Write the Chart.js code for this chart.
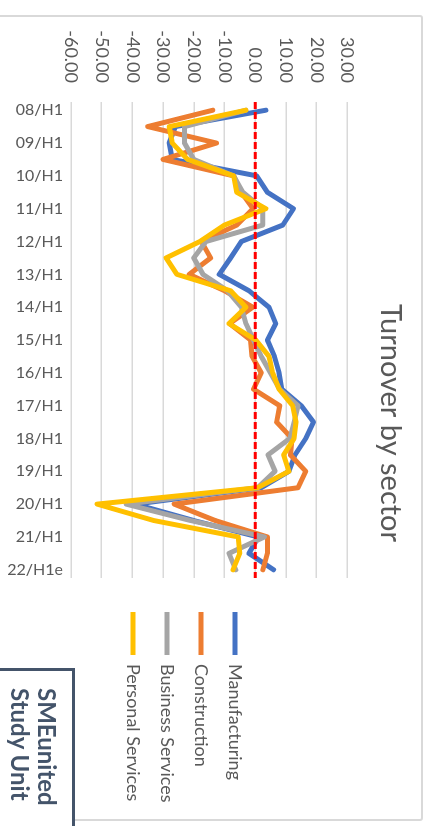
<!DOCTYPE html>
<html>
<head>
<meta charset="utf-8">
<script src="https://cdn.jsdelivr.net/npm/chart.js@4/dist/chart.umd.min.js"></script>
<style>
  html, body { margin: 0; padding: 0; background: #ffffff; overflow: hidden; }
  body { width: 430px; height: 826px; position: relative; }
  /* the chart is laid out landscape and turned a quarter clockwise */
  #sheet {
    position: absolute; left: 0; top: 0;
    width: 826px; height: 430px;
    transform-origin: 0 0;
    transform: translateX(430px) rotate(90deg);
  }
  #frame {
    position: absolute; left: 15px; top: 7px; width: 806px; height: 440px;
    border: 2px solid #d9d9d9; border-radius: 3px; box-sizing: border-box;
  }
  #chart { position: absolute; left: 0; top: 0; }
  #badge {
    position: absolute; left: 668px; top: 355px; width: 175px; height: 90px;
    border: 3px solid #44546a; box-sizing: border-box; background: #fff;
    padding: 11px 0 0 17px;
    font-family: Lato, sans-serif; font-weight: 700; font-size: 24px; line-height: 27px;
    color: #44546a;
  }
</style>
</head>
<body>
<div id="sheet">
  <div id="frame"></div>
  <canvas id="chart" width="826" height="430"></canvas>
  <div id="badge">SMEunited<br>Study Unit</div>
</div>
<script>
// Half-year periods (every second one is labelled on the axis)
const periods = ['08/H1','08/H2','09/H1','09/H2','10/H1','10/H2','11/H1','11/H2',
  '12/H1','12/H2','13/H1','13/H2','14/H1','14/H2','15/H1','15/H2','16/H1','16/H2',
  '17/H1','17/H2','18/H1','18/H2','19/H1','19/H2','20/H1','20/H2','21/H1','21/H2','22/H1e'];

// Turnover balance by sector
const manufacturing = [3.5,-26,-28,-27,0.5,4,12.5,9,-4.5,-8,-11.7,-2,4.5,6.7,4,6.3,7.8,8.7,15,19,16.5,13,11,2,-39,-20,1,-2,6];
const construction  = [-13.8,-35,-12.6,-30,-7,-4.5,-0.7,-6,-17.5,-14.5,-21.5,-10,-0.8,-8.3,-1.5,-1,2,-0.5,8,7,12,11.5,16.5,14,-26.4,-13,4,4,2.5];
const business      = [-3,-23,-23,-20,-7,-4,2.5,2.5,-16,-20,-17,-9,-4.5,-3,-0.5,2,5,8,14,12.7,11.3,4.2,6.5,0.8,-42,-21,3,-8.5,-6.3];
const personal      = [-3,-28,-27,-22,-7,-6,3.5,-10,-18,-29,-25.5,-8,-3,-8.5,0.2,4.5,5.7,7.8,12.2,13.3,12.7,9.3,11,0.8,-51.5,-33,-5.5,-5,-7.2];

const seriesNames = ['Manufacturing', 'Construction', 'Business Services', 'Personal Services'];
const valueMin = -60, valueMax = 30, valueStep = 10;
const referenceLevel = 0;

const textGrey = '#595959';
Chart.defaults.font.family = 'Lato, sans-serif';
Chart.defaults.color = textGrey;

// dashed red reference line across the plot at the zero level
const referenceLine = {
  id: 'referenceLine',
  afterDatasetsDraw(chart) {
    const {ctx, chartArea, scales} = chart;
    const y = scales.y.getPixelForValue(referenceLevel);
    ctx.save();
    ctx.strokeStyle = '#ff0000';
    ctx.lineWidth = 3;
    ctx.setLineDash([7, 3]);
    ctx.beginPath();
    ctx.moveTo(chartArea.left, y);
    ctx.lineTo(chartArea.right, y);
    ctx.stroke();
    ctx.restore();
  }
};

// legend column: fixed width, items set a little away from the plot
const legendColumn = {
  id: 'legendColumn',
  beforeLayout(chart) {
    const legend = chart.legend;
    if (legend && !legend._fixedWidth) {
      const fit = legend.fit;
      legend.fit = function () { fit.call(this); this.width = 241; };
      legend._fixedWidth = true;
    }
  },
  afterLayout(chart) {
    const legend = chart.legend;
    legend.left += 18; legend.right += 18;
    legend.top += 25; legend.bottom += 25;
  }
};

function line(label, data, color, order) {
  return {
    label, data, order,
    borderColor: color, backgroundColor: color,
    borderWidth: 5, pointRadius: 0, tension: 0, fill: false,
    borderJoinStyle: 'round', borderCapStyle: 'round'
  };
}

new Chart(document.getElementById('chart'), {
  type: 'line',
  data: {
    labels: periods,
    datasets: [
      line(seriesNames[0], manufacturing, '#4472c4', 3),
      line(seriesNames[1], construction, '#ed7d31', 2),
      line(seriesNames[2], business, '#a5a5a5', 1),
      line(seriesNames[3], personal, '#ffc000', 0)
    ]
  },
  options: {
    responsive: false,
    animation: false,
    devicePixelRatio: 1,
    layout: { padding: { top: 12, left: 27, right: 7, bottom: 0 } },
    plugins: {
      tooltip: { enabled: false },
      title: {
        display: true,
        text: 'Turnover by sector',
        color: textGrey,
        font: { size: 29, weight: 'normal' },
        padding: { top: 10, bottom: 26 }
      },
      legend: {
        position: 'right',
        align: 'center',
        labels: {
          usePointStyle: true,
          pointStyle: 'line',
          pointStyleWidth: 43,
          padding: 16,
          color: textGrey,
          font: { size: 18 },
          sort: (a, b) => a.datasetIndex - b.datasetIndex
        }
      }
    },
    scales: {
      x: {
        type: 'category',
        offset: true,
        grid: { display: false, drawTicks: false },
        border: { display: false },
        ticks: {
          autoSkip: false,
          minRotation: 90,
          maxRotation: 90,
          padding: 8,
          color: textGrey,
          font: { size: 16 },
          callback(value, index) {
            return index % 2 === 0 ? this.getLabelForValue(value) : '';
          }
        },
        afterFit(scale) { scale.height = 71; }
      },
      y: {
        min: valueMin,
        max: valueMax,
        grid: { color: '#d9d9d9', lineWidth: 1.5, drawTicks: false },
        border: { display: false },
        ticks: {
          stepSize: valueStep,
          padding: 19,
          color: textGrey,
          font: { size: 18 },
          callback: (v) => v.toFixed(2)
        },
        afterFit(scale) { scale.width = 75; }
      }
    }
  },
  plugins: [referenceLine, legendColumn]
});
</script>
</body>
</html>
